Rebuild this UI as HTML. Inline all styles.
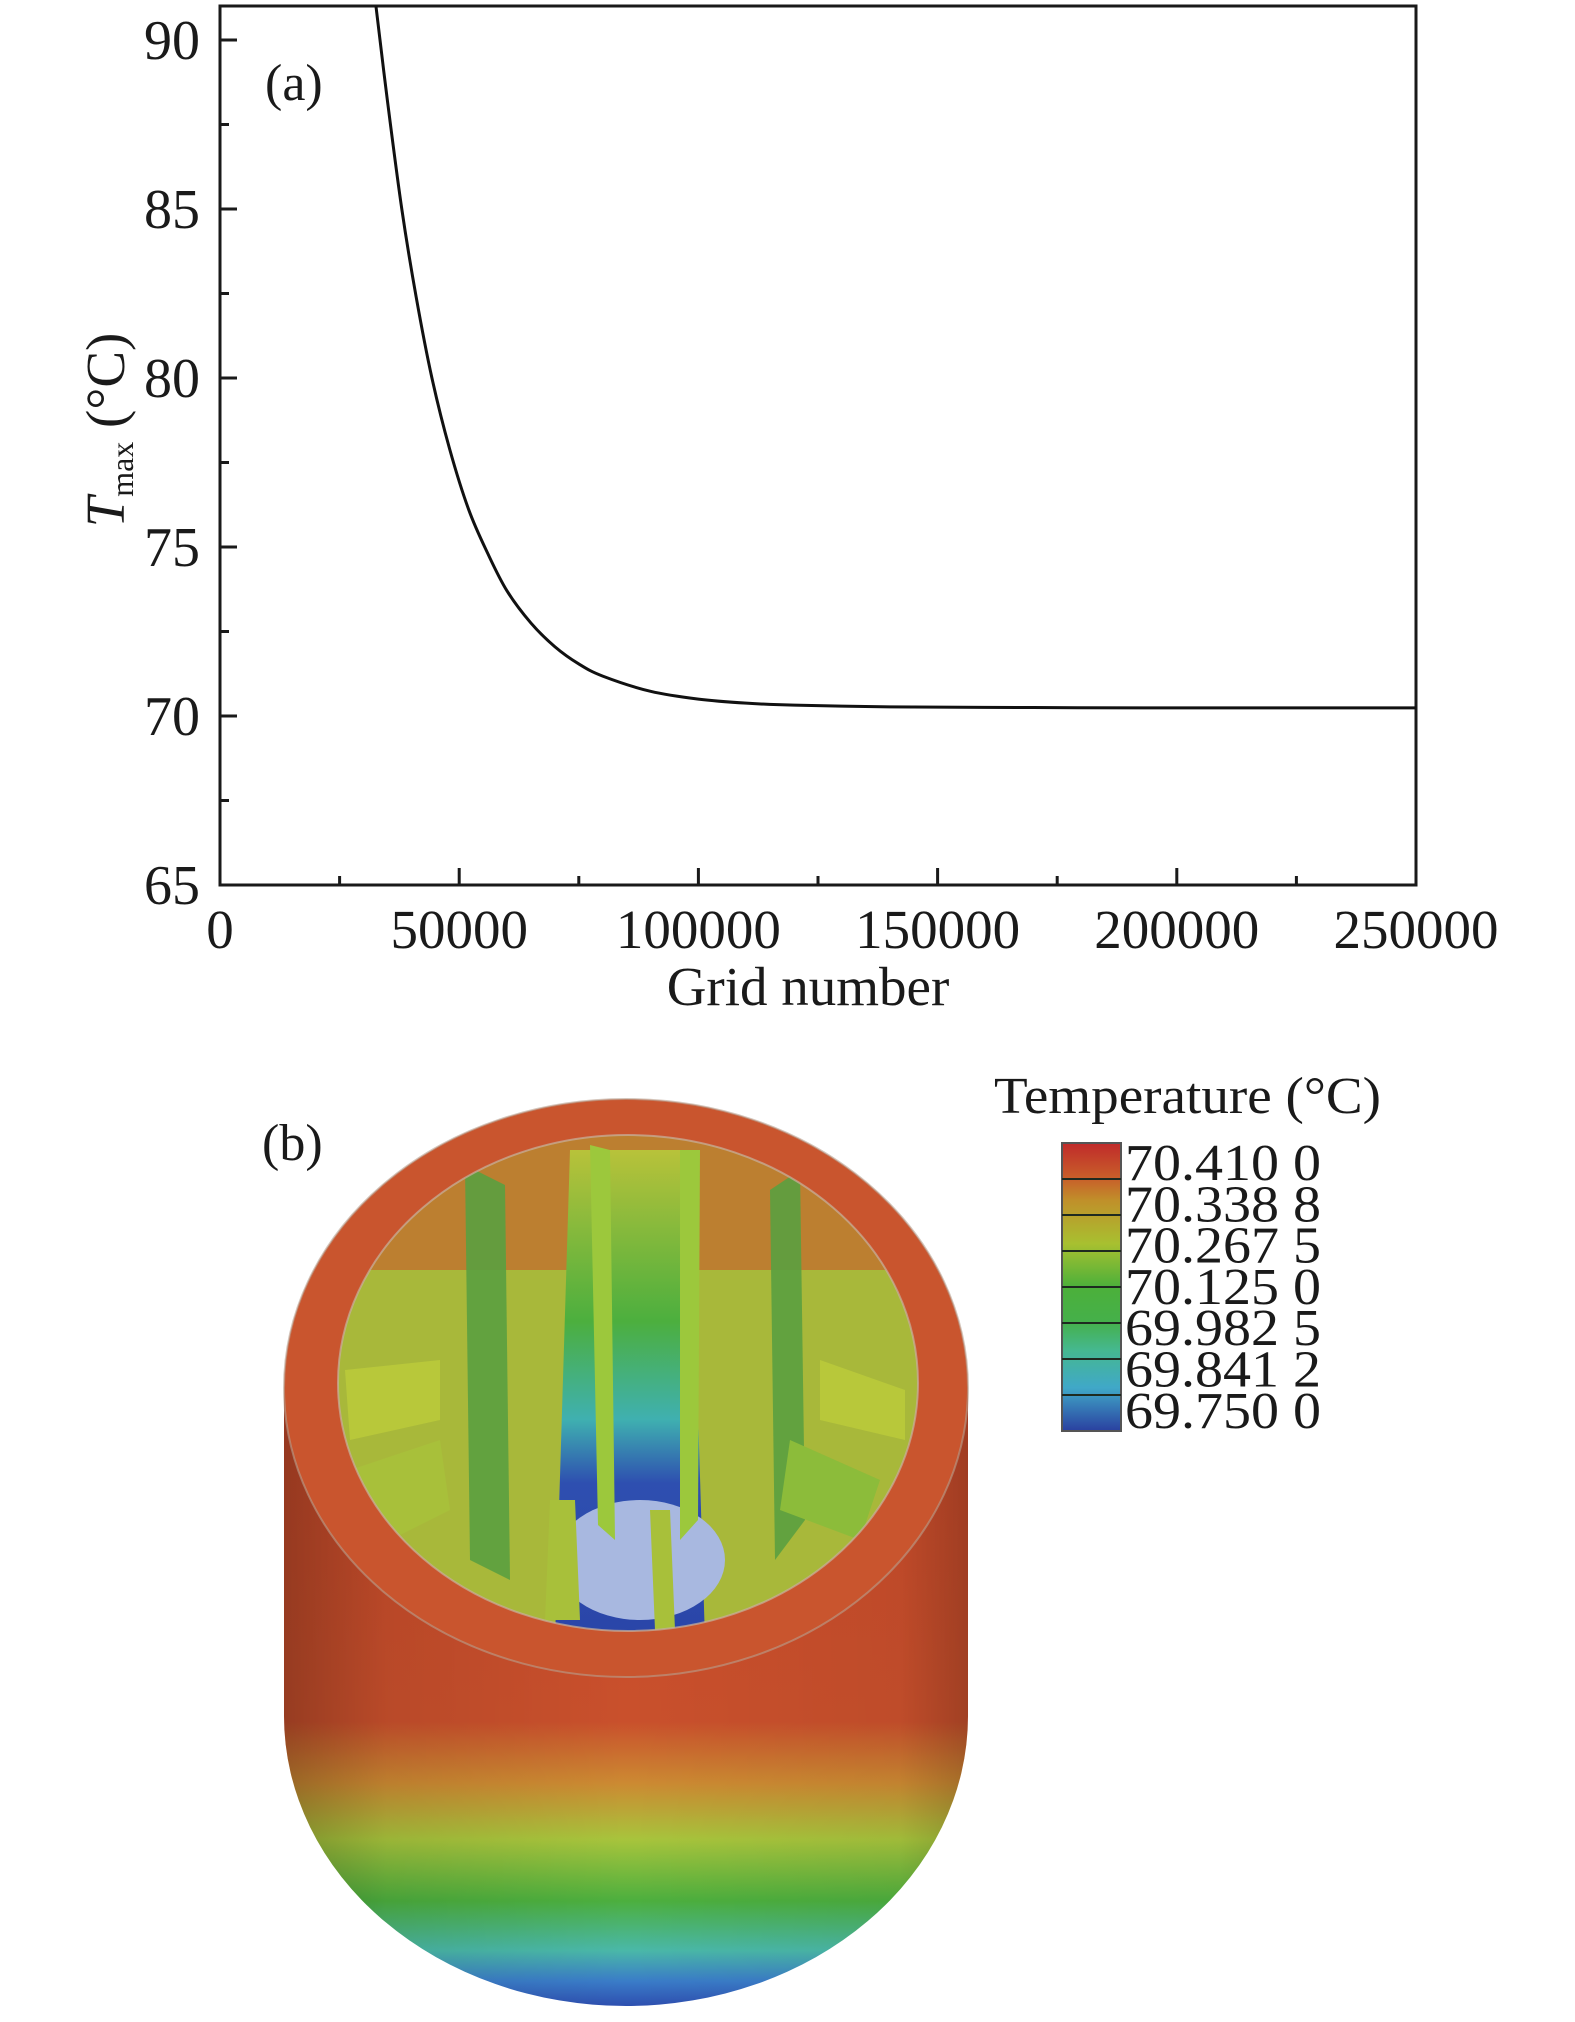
<!DOCTYPE html>
<html><head><meta charset="utf-8"><style>
html,body{margin:0;padding:0;background:#fff;}
svg{display:block;font-family:"Liberation Serif",serif;}
</style></head><body>
<svg width="1575" height="2022" viewBox="0 0 1575 2022" xmlns="http://www.w3.org/2000/svg">
<defs>
  <linearGradient id="bodyV" x1="0" y1="0" x2="0" y2="1" gradientUnits="objectBoundingBox">
    <stop offset="0" stop-color="#c84a2a"/>
    <stop offset="0.54" stop-color="#c9502c"/>
    <stop offset="0.64" stop-color="#cc8a32"/>
    <stop offset="0.73" stop-color="#a8c43c"/>
    <stop offset="0.83" stop-color="#4caf3e"/>
    <stop offset="0.91" stop-color="#4ab8a8"/>
    <stop offset="0.96" stop-color="#3a7cc8"/>
    <stop offset="1" stop-color="#2e4fb0"/>
  </linearGradient>
  <linearGradient id="bodyH" x1="0" y1="0" x2="1" y2="0">
    <stop offset="0" stop-color="#000" stop-opacity="0.25"/>
    <stop offset="0.15" stop-color="#000" stop-opacity="0.08"/>
    <stop offset="0.5" stop-color="#000" stop-opacity="0"/>
    <stop offset="0.9" stop-color="#000" stop-opacity="0.05"/>
    <stop offset="1" stop-color="#000" stop-opacity="0.2"/>
  </linearGradient>
  <linearGradient id="core" x1="0" y1="0" x2="0" y2="1">
    <stop offset="0" stop-color="#b8c23a"/>
    <stop offset="0.35" stop-color="#4caf3e"/>
    <stop offset="0.55" stop-color="#3fb0b0"/>
    <stop offset="0.68" stop-color="#2e4fb0"/>
    <stop offset="1" stop-color="#2a45a8"/>
  </linearGradient>
  <linearGradient id="cbar" x1="0" y1="0" x2="0" y2="1">
    <stop offset="0" stop-color="#c02a2a"/>
    <stop offset="0.125" stop-color="#c8602a"/>
    <stop offset="0.2" stop-color="#c0902a"/>
    <stop offset="0.35" stop-color="#a8c030"/>
    <stop offset="0.5" stop-color="#4cb03a"/>
    <stop offset="0.62" stop-color="#45b04a"/>
    <stop offset="0.72" stop-color="#45b890"/>
    <stop offset="0.85" stop-color="#40a8c8"/>
    <stop offset="1" stop-color="#2a40a0"/>
  </linearGradient>
  <clipPath id="innerClip"><ellipse cx="628" cy="1383" rx="290" ry="248"/></clipPath>
</defs>

<g id="chart-a">
  <rect x="220" y="6" width="1196" height="879" fill="none" stroke="#1a1a1a" stroke-width="3"/>
  <g id="xticks"></g>
  <g id="yticks"></g>
  <path id="curve" fill="none" stroke="#111" stroke-width="3"/>
  <text x="265" y="100" font-size="52" fill="#1a1a1a">(a)</text>
  <text x="808" y="1005" font-size="55" text-anchor="middle" fill="#1a1a1a">Grid number</text>
  <text transform="translate(124,430) rotate(-90)" font-size="55" text-anchor="middle" fill="#1a1a1a"><tspan font-style="italic">T</tspan><tspan font-size="32" dy="9">max</tspan><tspan dy="-9"> (°C)</tspan></text>
</g>

<g id="panel-b">
  <text x="262" y="1160" font-size="52" fill="#1a1a1a">(b)</text>
  <path d="M284 1388 L284 1716 A342 290 0 0 0 968 1716 L968 1388 Z" fill="url(#bodyV)"/>
  <path d="M284 1388 L284 1716 A342 290 0 0 0 968 1716 L968 1388 Z" fill="url(#bodyH)"/>
  <ellipse cx="626" cy="1388" rx="342" ry="289" fill="#c9552e"/>
  <ellipse cx="626" cy="1388" rx="342" ry="289" fill="none" stroke="#b8a090" stroke-width="2" opacity="0.6"/>
  <g clip-path="url(#innerClip)">
    <rect x="330" y="1130" width="600" height="520" fill="#a8b83a"/>
    <rect x="330" y="1130" width="600" height="140" fill="#c0702e" opacity="0.8"/>
    <path d="M570 1150 L690 1150 L705 1640 L555 1640 Z" fill="url(#core)"/>
    <ellipse cx="640" cy="1560" rx="85" ry="60" fill="#a8b8e0"/>
    <polygon points="465,1165 505,1185 510,1580 470,1560" fill="#5aa040" opacity="0.9"/>
    <polygon points="590,1145 610,1150 615,1540 598,1525" fill="#9cc83c"/>
    <polygon points="680,1150 700,1150 698,1520 680,1540" fill="#9cc83c"/>
    <polygon points="770,1190 800,1170 805,1520 775,1560" fill="#5aa040" opacity="0.9"/>
    <polygon points="345,1370 440,1360 440,1420 350,1440" fill="#b8c83a"/>
    <polygon points="820,1360 905,1390 905,1440 820,1420" fill="#b8c83a"/>
    <polygon points="350,1470 440,1440 450,1510 370,1550" fill="#a8c03a"/>
    <polygon points="790,1440 880,1480 860,1540 780,1510" fill="#8cbc3a"/>
    <polygon points="550,1500 575,1500 580,1620 545,1620" fill="#a8c03a"/>
    <polygon points="650,1510 670,1510 675,1630 655,1630" fill="#a8c03a"/>
  </g>
  <ellipse cx="628" cy="1383" rx="290" ry="248" fill="none" stroke="#c8b0a0" stroke-width="2" opacity="0.7"/>
</g>

<g id="legend">
  <text x="994" y="1113" font-size="52" textLength="387" lengthAdjust="spacingAndGlyphs" fill="#1a1a1a">Temperature (°C)</text>
  <rect x="1062" y="1143" width="59" height="288" fill="url(#cbar)" stroke="#555" stroke-width="2"/>
  <g id="cbarLines"></g>
  <g id="cbarLabels" font-size="52" fill="#1a1a1a"></g>
</g>

<script>
const NS = "http://www.w3.org/2000/svg";
const xTickValues = [0, 50000, 100000, 150000, 200000, 250000];
const xTickLabels = ["0", "50000", "100000", "150000", "200000", "250000"];
const yTickValues = [65, 70, 75, 80, 85, 90];
const yTickLabels = ["65", "70", "75", "80", "85", "90"];
const gridNumbers = [32600, 35000, 38000, 41000, 44300, 48000, 52000, 56000, 60000, 65000, 70000, 75000, 80000, 90000, 100000, 110000, 120000, 140000, 170000, 200000, 250000];
const tmaxValues = [91.0, 88.2, 85.0, 82.4, 80.0, 77.9, 76.1, 74.8, 73.7, 72.75, 72.05, 71.54, 71.18, 70.73, 70.5, 70.38, 70.32, 70.27, 70.25, 70.24, 70.24];
const legendLabels = ["70.410 0", "70.338 8", "70.267 5", "70.125 0", "69.982 5", "69.841 2", "69.750 0"];

const X0 = 220, X1 = 1416, Y0 = 885, Y1 = 40;
const xScale = v => X0 + (v - 0) / 250000 * (X1 - X0);
const yScale = v => Y0 - (v - 65) / 25 * (Y0 - Y1);

const xg = document.getElementById('xticks');
for (let i = 0; i < xTickValues.length; i++) {
  const x = xScale(xTickValues[i]);
  const t = document.createElementNS(NS, 'line');
  t.setAttribute('x1', x); t.setAttribute('x2', x);
  t.setAttribute('y1', Y0); t.setAttribute('y2', Y0 - 17);
  t.setAttribute('stroke', '#1a1a1a'); t.setAttribute('stroke-width', 3);
  
  
  xg.appendChild(t);
  if (i < xTickValues.length - 1) {
    const xm = xScale(xTickValues[i] + 25000);
    const m = document.createElementNS(NS, 'line');
    m.setAttribute('x1', xm); m.setAttribute('x2', xm);
    m.setAttribute('y1', Y0); m.setAttribute('y2', Y0 - 9);
    m.setAttribute('stroke', '#1a1a1a'); m.setAttribute('stroke-width', 3);
    
    
    xg.appendChild(m);
  }
  const lb = document.createElementNS(NS, 'text');
  lb.setAttribute('x', x); lb.setAttribute('y', 948);
  lb.setAttribute('text-anchor', 'middle'); lb.setAttribute('font-size', 55);
  lb.setAttribute('fill', '#1a1a1a');
  lb.textContent = xTickLabels[i];
  
  
  xg.appendChild(lb);
}
const yg = document.getElementById('yticks');
for (let i = 0; i < yTickValues.length; i++) {
  const y = yScale(yTickValues[i]);
  const t = document.createElementNS(NS, 'line');
  t.setAttribute('x1', X0); t.setAttribute('x2', X0 + 17);
  t.setAttribute('y1', y); t.setAttribute('y2', y);
  t.setAttribute('stroke', '#1a1a1a'); t.setAttribute('stroke-width', 3);
  
  
  yg.appendChild(t);
  const ym = yScale(yTickValues[i] + 2.5);
  const m = document.createElementNS(NS, 'line');
  m.setAttribute('x1', X0); m.setAttribute('x2', X0 + 9);
  m.setAttribute('y1', ym); m.setAttribute('y2', ym);
  m.setAttribute('stroke', '#1a1a1a'); m.setAttribute('stroke-width', 3);
  
  
  yg.appendChild(m);
  const lb = document.createElementNS(NS, 'text');
  lb.setAttribute('x', 200); lb.setAttribute('y', y + 19);
  lb.setAttribute('text-anchor', 'end'); lb.setAttribute('font-size', 56);
  lb.setAttribute('fill', '#1a1a1a');
  lb.textContent = yTickLabels[i];
  
  
  yg.appendChild(lb);
}
const pts = gridNumbers.map((g, i) => [xScale(g), yScale(tmaxValues[i])]);
let d = `M${pts[0][0]},${Math.max(pts[0][1], 6)}`;
for (let i = 0; i < pts.length - 1; i++) {
  const p0 = pts[Math.max(i - 1, 0)], p1 = pts[i], p2 = pts[i + 1], p3 = pts[Math.min(i + 2, pts.length - 1)];
  const c1 = [p1[0] + (p2[0] - p0[0]) / 6, p1[1] + (p2[1] - p0[1]) / 6];
  const c2 = [p2[0] - (p3[0] - p1[0]) / 6, p2[1] - (p3[1] - p1[1]) / 6];
  d += ` C${c1[0]},${c1[1]} ${c2[0]},${c2[1]} ${p2[0]},${p2[1]}`;
}
document.getElementById('curve').setAttribute('d', d);

const cl = document.getElementById('cbarLines');
for (let i = 1; i < 8; i++) {
  const y = 1143 + i * 36;
  const l = document.createElementNS(NS, 'line');
  l.setAttribute('x1', 1062); l.setAttribute('x2', 1121);
  l.setAttribute('y1', y); l.setAttribute('y2', y);
  l.setAttribute('stroke', '#1e2a20'); l.setAttribute('stroke-width', 2);
  
  
  cl.appendChild(l);
}
const cg = document.getElementById('cbarLabels');
for (let i = 0; i < legendLabels.length; i++) {
  const t = document.createElementNS(NS, 'text');
  t.setAttribute('x', 1125); t.setAttribute('y', 1180 + i * 41.3);
  t.setAttribute('textLength', 196);
  t.setAttribute('lengthAdjust', 'spacingAndGlyphs');
  t.textContent = legendLabels[i];
  
  
  cg.appendChild(t);
}
</script>
</svg>
</body></html>
